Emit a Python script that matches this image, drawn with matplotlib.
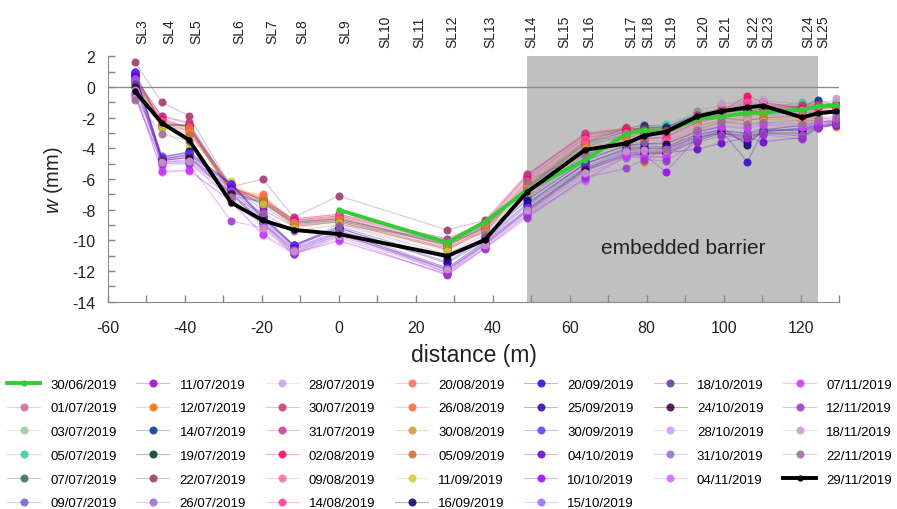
import numpy as np
import matplotlib
matplotlib.use('Agg')
import matplotlib.pyplot as plt
from matplotlib.colors import to_rgba

plt.rcParams['font.family'] = ['Liberation Sans', 'DejaVu Sans']
plt.rcParams['axes.unicode_minus'] = False
plt.rcParams['mathtext.fontset'] = 'custom'
plt.rcParams['mathtext.it'] = 'Liberation Sans:italic'
plt.rcParams['mathtext.rm'] = 'Liberation Sans'

# distance of the survey points along the line (m)
x_dist = [-53, -46, -39, -28, -19.8, -11.7, 0, 28.2, 37.9, 48.8, 64, 74.7, 79.2, 85,
          93.2, 99.2, 106.2, 110.2, 120.4, 124.4, 129.3]

# section labels on top and where they sit
sl_names = ['SL3', 'SL4', 'SL5', 'SL6', 'SL7', 'SL8', 'SL9', 'SL10', 'SL11', 'SL12', 'SL13',
            'SL14', 'SL15', 'SL16', 'SL17', 'SL18', 'SL19', 'SL20', 'SL21', 'SL22', 'SL23',
            'SL24', 'SL25']
sl_pos = [-51.1, -44.1, -37.0, -25.8, -17.3, -9.5, 1.8, 12.0, 20.9, 29.4, 39.4,
          50.1, 58.6, 65.1, 76.0, 80.4, 86.4, 94.7, 100.5, 107.8, 111.7, 122.0, 125.9]

# embedded barrier extent (m)
barrier = [48.8, 124.5]

# first and last survey (thick lines)
date_first = '30/06/2019'
w_first = [np.nan, np.nan, np.nan, np.nan, np.nan, np.nan, -8.02, -10.15, -8.8, -6.75,
           -4.75, -3.07, -2.81, -2.92, -2.09, -1.92, -1.70, -1.66, -1.48, -1.26, -1.18]
date_last = '29/11/2019'
w_last = [-0.28, -2.35, -3.44, -7.54, -8.69, -9.32, -9.59, -11.02, -9.98, -6.88,
          -4.10, -3.68, -3.18, -2.92, -1.92, -1.59, -1.33, -1.22, -1.98, -1.72, -1.59]

# intermediate surveys
dates = ['01/07/2019', '03/07/2019', '05/07/2019', '07/07/2019', '09/07/2019',
         '11/07/2019', '12/07/2019', '14/07/2019', '19/07/2019', '22/07/2019', '26/07/2019',
         '28/07/2019', '30/07/2019', '31/07/2019', '02/08/2019', '09/08/2019', '14/08/2019',
         '20/08/2019', '26/08/2019', '30/08/2019', '05/09/2019', '11/09/2019', '16/09/2019',
         '20/09/2019', '25/09/2019', '30/09/2019', '04/10/2019', '10/10/2019', '15/10/2019',
         '18/10/2019', '24/10/2019', '28/10/2019', '31/10/2019', '04/11/2019', '07/11/2019',
         '12/11/2019', '18/11/2019', '22/11/2019']
colors = ['#cc6699', '#99cc99', '#33cc99', '#336666', '#6666cc',
          '#9900cc', '#ff6600', '#003399', '#003333', '#993366', '#9966cc',
          '#cc99ff', '#cc3366', '#cc3399', '#ff0066', '#ff6699', '#ff3399',
          '#ff6666', '#ff6633', '#cc9933', '#cc6633', '#cccc33', '#000066',
          '#3300cc', '#330099', '#6633ff', '#6600cc', '#9900ff', '#9966ff',
          '#663399', '#330033', '#cc99ff', '#9966cc', '#cc66ff', '#cc33ff',
          '#9933cc', '#cc99cc', '#996699']
w_series = [
    [0.6, -2.0, -2.7, -6.6, -7.4, -8.7, -8.4, -9.9, -8.9, -5.9, -3.2, -2.8, -2.7, -2.7, -1.55, -1.2, -0.8, -0.9, -1.1, -1.0, -0.9],
    [0.5, -2.3, -2.6, -6.8, -7.6, -8.8, -8.5, -10.1, -9.0, -6.3, -3.6, -2.9, -2.8, -2.6, -1.8, -1.4, -1.2, -1.3, -1.2, -1.1, -1.0],
    [0.3, -2.4, -2.5, -6.9, -7.5, -8.9, -8.6, -10.2, -9.1, -6.5, -3.8, -3.0, -2.6, -2.42, -1.7, -1.5, -1.3, -1.4, -0.96, -1.2, -1.1],
    [0.2, -2.5, -2.5, -7.1, -7.5, -8.8, -8.6, -10.3, -9.2, -6.6, -3.9, -3.1, -2.7, -2.6, -1.9, -1.6, -1.5, -1.5, -1.4, -1.3, -1.3],
    [1.0, -2.6, -2.8, -6.4, -7.8, -9.0, -8.7, -10.5, -9.3, -6.9, -4.2, -3.3, -3.0, -3.0, -2.1, -1.8, -1.8, -1.8, -1.7, -1.6, -1.5],
    [0.8, -4.7, -4.4, -6.5, -8.0, -9.1, -8.8, -10.6, -9.4, -7.2, -4.4, -3.5, -3.4, -3.3, -2.3, -2.0, -2.2, -2.0, -1.9, -1.8, -1.7],
    [0.5, -2.2, -2.6, -6.6, -7.2, -8.7, -8.5, -10.4, -9.1, -6.4, -3.5, -2.59, -2.9, -2.8, -1.9, -1.6, -1.4, -1.5, -1.3, -1.4, -1.4],
    [0.9, -2.5, -2.5, -6.5, -7.4, -8.8, -8.6, -10.2, -9.1, -6.5, -3.6, -2.7, -2.48, -2.6, -1.8, -1.5, -1.3, -1.4, -1.3, -0.85, -1.2],
    [0.7, -2.4, -2.5, -6.8, -7.6, -8.9, -8.7, -10.3, -9.2, -6.6, -3.7, -2.9, -2.6, -2.7, -1.9, -1.7, -1.5, -1.6, -1.5, -1.4, -1.3],
    [1.61, -1.0, -1.87, -6.5, -6.01, -8.5, -7.1, -9.32, -8.7, -5.7, -3.1, -2.7, -2.7, -2.8, -1.9, -1.5, -1.2, -1.2, -1.3, -1.2, -1.2],
    [0.4, -4.8, -4.5, -6.7, -8.3, -10.4, -8.9, -10.9, -9.6, -7.3, -4.6, -3.9, -3.7, -3.6, -2.5, -2.2, -2.5, -2.3, -2.2, -2.0, -1.9],
    [0.3, -4.9, -4.9, -6.9, -8.4, -10.5, -9.0, -11.0, -9.7, -7.4, -4.7, -3.9, -3.8, -3.7, -2.6, -2.3, -2.5, -2.4, -2.3, -2.1, -2.0],
    [0.6, -1.9, -2.3, -6.6, -7.3, -8.6, -8.3, -9.9, -8.8, -5.8, -3.0, -2.7, -2.8, -2.9, -1.8, -1.4, -0.9, -1.1, -1.2, -1.1, -1.1],
    [0.5, -1.9, -2.4, -6.7, -7.5, -8.6, -8.3, -10.0, -8.9, -5.8, -3.1, -2.8, -2.9, -3.0, -1.9, -1.5, -1.0, -1.2, -1.3, -1.2, -1.2],
    [0.4, -2.1, -2.7, -6.7, -7.3, -8.7, -8.4, -10.1, -9.0, -6.0, -3.3, -2.9, -3.0, -3.1, -2.0, -1.6, -0.57, -1.0, -1.4, -1.3, -1.3],
    [0.5, -2.2, -2.8, -6.8, -7.4, -8.8, -8.4, -10.2, -9.0, -6.1, -3.4, -3.0, -3.1, -3.2, -2.1, -1.7, -1.0, -1.2, -1.5, -1.4, -1.4],
    [0.4, -2.3, -2.9, -6.7, -7.5, -8.9, -8.5, -10.3, -9.1, -6.2, -3.5, -3.2, -3.3, -3.3, -2.2, -1.8, -1.2, -1.3, -1.6, -1.5, -1.5],
    [0.6, -2.4, -2.79, -6.8, -6.99, -8.9, -8.6, -10.4, -9.2, -6.3, -3.7, -3.3, -3.5, -3.5, -2.3, -2.0, -1.7, -1.6, -1.8, -1.8, -2.4],
    [0.5, -2.4, -2.6, -6.9, -7.1, -9.0, -8.7, -10.5, -9.3, -6.5, -3.9, -3.5, -4.92, -3.8, -2.5, -2.2, -1.9, -1.8, -2.0, -2.0, -2.64],
    [0.4, -2.5, -3.0, -6.4, -7.3, -9.0, -8.8, -10.5, -9.3, -6.6, -4.0, -3.6, -4.0, -4.0, -2.6, -2.3, -2.0, -2.0, -2.1, -2.1, -2.2],
    [0.3, -2.6, -3.1, -6.5, -7.4, -9.1, -8.8, -10.6, -9.4, -6.7, -4.1, -3.7, -4.1, -4.2, -2.7, -2.4, -2.1, -2.1, -2.2, -2.2, -2.3],
    [0.2, -2.7, -3.94, -6.12, -7.6, -9.2, -8.9, -10.7, -9.5, -6.9, -4.3, -3.9, -4.2, -4.71, -2.8, -2.5, -2.3, -2.2, -2.3, -2.3, -2.3],
    [0.8, -4.6, -4.2, -6.3, -8.4, -10.3, -9.1, -11.2, -9.8, -7.4, -4.8, -3.8, -3.7, -3.7, -2.9, -2.6, -3.79, -2.8, -2.5, -2.3, -2.2],
    [1.0, -4.6, -4.3, -6.3, -8.6, -10.3, -9.2, -11.4, -9.9, -7.6, -5.0, -4.0, -3.9, -3.9, -3.1, -2.8, -4.88, -2.9, -2.7, -2.5, -2.4],
    [0.9, -4.7, -4.4, -6.4, -8.56, -10.4, -9.2, -11.5, -10.0, -7.7, -5.0, -4.1, -4.0, -4.0, -3.3, -2.9, -3.6, -2.9, -2.8, -2.6, -2.5],
    [0.95, -4.5, -4.3, -6.34, -8.5, -10.33, -9.3, -11.79, -10.1, -7.8, -5.18, -4.2, -4.1, -4.1, -3.2, -2.8, -3.1, -2.86, -2.7, -2.4, -2.3],
    [0.7, -4.8, -4.6, -6.6, -8.7, -10.5, -9.4, -11.9, -10.2, -8.0, -5.3, -4.3, -4.2, -4.3, -4.05, -3.68, -3.29, -3.57, -3.3, -2.6, -2.5],
    [0.6, -4.9, -4.8, -6.9, -8.9, -10.6, -9.5, -12.1, -10.3, -8.2, -5.5, -4.4, -4.4, -5.53, -3.3, -3.0, -3.3, -3.0, -3.2, -2.7, -2.4],
    [0.5, -4.9, -4.7, -6.8, -8.8, -10.6, -9.4, -12.0, -10.2, -8.1, -5.4, -4.3, -4.3, -4.4, -3.0, -2.8, -3.0, -2.7, -2.9, -2.5, -2.3],
    [0.2, -4.7, -4.5, -6.9, -8.8, -10.7, -9.5, -11.8, -10.1, -8.0, -5.3, -4.4, -4.3, -4.2, -3.4, -2.9, -3.0, -2.8, -2.8, -2.5, -2.3],
    [0.0, -4.8, -4.6, -7.0, -8.9, -10.8, -9.6, -11.9, -10.3, -8.1, -5.4, -4.5, -4.4, -4.3, -3.5, -3.0, -3.2, -3.0, -3.0, -2.6, -2.4],
    [-0.2, -5.2, -5.0, -7.2, -9.0, -10.8, -9.6, -12.0, -10.3, -8.2, -5.6, -4.4, -4.5, -4.5, -2.9, -2.5, -2.6, -2.4, -2.6, -2.3, -2.1],
    [-0.5, -5.0, -4.9, -7.3, -9.0, -10.9, -9.7, -12.1, -10.4, -8.3, -5.7, -4.6, -4.6, -4.5, -3.4, -3.1, -3.1, -3.0, -3.1, -2.6, -2.4],
    [-0.3, -5.57, -5.47, -7.4, -9.67, -10.9, -10.04, -12.2, -10.5, -8.4, -6.12, -4.53, -4.6, -4.6, -2.96, -2.53, -2.6, -2.4, -2.5, -2.3, -2.1],
    [-0.4, -5.5, -5.4, -7.5, -9.6, -10.8, -10.0, -12.2, -10.5, -8.4, -6.0, -4.5, -4.5, -4.6, -2.9, -2.6, -2.7, -2.5, -2.6, -2.4, -2.2],
    [-0.6, -5.0, -5.0, -8.74, -9.17, -10.92, -9.8, -12.29, -10.54, -8.56, -5.9, -5.31, -4.75, -4.8, -3.6, -3.2, -3.3, -3.1, -3.4, -2.7, -2.4],
    [-0.7, -4.9, -4.8, -7.3, -9.2, -10.7, -9.7, -11.9, -10.3, -8.0, -5.6, -4.2, -4.1, -4.1, -2.6, -1.05, -2.1, -0.78, -2.4, -1.9, -0.74],
    [-0.83, -3.07, -3.5, -7.2, -8.2, -9.4, -9.0, -9.96, -9.6, -6.12, -4.4, -3.7, -3.6, -4.05, -2.8, -2.3, -2.4, -2.3, -2.4, -2.1, -2.0],
]

fig = plt.figure(figsize=(8.97, 5.10), dpi=100)
ax = fig.add_axes([0.1204, 0.4065, 0.815, 0.4811])

ax.axvspan(barrier[0], barrier[1], color='#c0c0c0', lw=0, zorder=0)
ax.axhline(0, color='#8c8c8c', lw=1, zorder=1)

handles = []
h, = ax.plot(x_dist, w_first, color='#33cc33', lw=2.8, marker='o', ms=3.5, label=date_first, zorder=5)
handles.append(h)
for d, c, w in zip(dates, colors, w_series):
    h, = ax.plot(x_dist, w, color=to_rgba(c, 0.3), lw=0.8, marker='o', ms=5.8,
                 mfc=to_rgba(c, 0.85), mec='none', label=d, zorder=3)
    handles.append(h)
h, = ax.plot(x_dist, w_last, color='black', lw=2.8, marker='o', ms=3.5, label=date_last, zorder=6)
handles.append(h)

ax.set_xlim(-60, 130)
ax.set_ylim(-14, 2)
ax.set_xticks(np.arange(-60, 121, 20))
ax.set_xticks(np.arange(-50, 131, 20), minor=True)
ax.set_yticks(np.arange(-14, 3, 2))
ax.set_yticks(np.arange(-13, 2, 2), minor=True)
ax.tick_params(which='both', direction='in', length=5, width=1, color='#888888',
               labelsize=11.5, labelcolor='#222222')
ax.tick_params(axis='x', pad=13)
ax.tick_params(axis='y', pad=9)
for s in ['top', 'right']:
    ax.spines[s].set_visible(False)
for s in ['left', 'bottom']:
    ax.spines[s].set_color('#888888')

ax.set_xlabel('distance (m)', fontsize=16.5, color='#222222', labelpad=6)
ax.set_ylabel('$w$ (mm)', fontsize=14.5, color='#222222', labelpad=5)

for name, p in zip(sl_names, sl_pos):
    ax.text(p, 1.103, name, transform=ax.get_xaxis_transform(), rotation=90,
            ha='center', va='center', fontsize=10, color='#222222')

ax.text(89.6, -10.44, 'embedded barrier', fontsize=15, color='#222222', ha='center', va='center')

fig.legend(handles, [hh.get_label() for hh in handles], loc='upper left',
           bbox_to_anchor=(0.008, 0.256), ncol=7, frameon=False, fontsize=9.5,
           handlelength=2.5, handletextpad=0.76, columnspacing=1.5, labelspacing=0.87,
           borderpad=0, borderaxespad=0)

fig.savefig('out.png', dpi=100)
